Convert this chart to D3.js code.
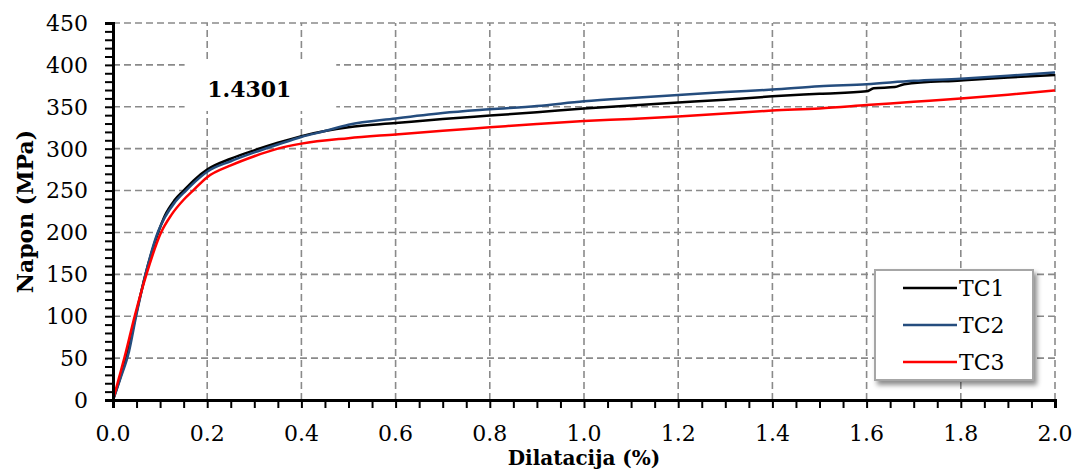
<!DOCTYPE html>
<html>
<head>
<meta charset="utf-8">
<script src="https://cdn.jsdelivr.net/npm/d3@7"></script>
<style>
body { margin: 0; background: #fff; }
</style>
</head>
<body>
<div id="graph"></div>
<script>
// Curves (strain in %, stress in MPa)
const strainTC1 = [0, 0.016, 0.032, 0.048, 0.069, 0.096, 0.11, 0.13, 0.15, 0.175, 0.2, 0.25, 0.3, 0.35, 0.4, 0.45, 0.5, 0.6, 0.7, 0.8, 0.9, 1.0, 1.1, 1.2, 1.3, 1.4, 1.5, 1.6, 1.615, 1.66, 1.68, 1.8, 1.9, 2.0]
const stressTC1 = [0, 28, 60, 100, 150, 200, 220, 238, 250, 264, 275, 288, 298, 307, 315, 321, 325.5, 330.5, 335.5, 339.5, 343.5, 348, 351.5, 355, 358.5, 362.5, 365.5, 368.5, 372, 373.5, 377, 381.5, 385, 388]

const strainTC2 = [0, 0.016, 0.034, 0.049, 0.069, 0.095, 0.11, 0.13, 0.155, 0.175, 0.2, 0.25, 0.3, 0.35, 0.4, 0.45, 0.5, 0.6, 0.7, 0.8, 0.9, 1.0, 1.1, 1.2, 1.3, 1.4, 1.5, 1.6, 1.7, 1.8, 1.9, 2.0]
const stressTC2 = [0, 26, 58, 100, 150, 200, 218, 235, 250, 261, 272.5, 285, 295.5, 305, 314, 321, 328.5, 336, 342.5, 347, 351, 356.5, 360.5, 364, 367.5, 370.5, 374.5, 377, 381, 383.5, 387, 391]

const strainTC3 = [0, 0.012, 0.025, 0.046, 0.071, 0.102, 0.124, 0.15, 0.17, 0.2, 0.25, 0.3, 0.35, 0.4, 0.5, 0.6, 0.7, 0.8, 0.9, 1.0, 1.1, 1.2, 1.3, 1.4, 1.5, 1.6, 1.7, 1.8, 1.9, 2.0]
const stressTC3 = [0, 25, 52, 100, 150, 200, 221, 239, 250, 266, 280, 291, 300, 306, 312.5, 317, 321.5, 325.5, 329.5, 333, 335.5, 338.5, 342, 345.5, 348, 352, 356, 360, 364.5, 369.5]

const seriesNames = ["TC1", "TC2", "TC3"]
const seriesColors = ["#000000", "#254d7e", "#ff0000"]

const xTicks = [0, 0.2, 0.4, 0.6, 0.8, 1.0, 1.2, 1.4, 1.6, 1.8, 2.0]
const yTicks = [0, 50, 100, 150, 200, 250, 300, 350, 400, 450]

const chartTitle = "1.4301"
const xTitle = "Dilatacija (%)"
const yTitle = "Napon (MPa)"

const width = 1075
const height = 471
const margin = { top: 23, right: 20, bottom: 71, left: 113 }
const serif = "'DejaVu Serif', serif"

const svg = d3.select("#graph").append("svg")
    .attr("width", width)
    .attr("height", height)

const x = d3.scaleLinear()
    .domain([0, 2])
    .range([margin.left, width - margin.right])

const y = d3.scaleLinear()
    .domain([0, 450])
    .range([height - margin.bottom, margin.top])

// Grid
const grid = svg.append("g")
    .attr("stroke", "#8a8a8a")
    .attr("stroke-width", 1.6)
    .attr("stroke-dasharray", "7,4")

grid.selectAll(".gx")
    .data(xTicks.slice(1))
    .join("line")
    .attr("x1", d => x(d))
    .attr("x2", d => x(d))
    .attr("y1", y(0))
    .attr("y2", y(450))

grid.selectAll(".gy")
    .data(yTicks.slice(1))
    .join("line")
    .attr("x1", x(0))
    .attr("x2", x(2))
    .attr("y1", d => y(d))
    .attr("y2", d => y(d))

// Title box covers the grid
svg.append("rect")
    .attr("x", x(0.152))
    .attr("y", y(407))
    .attr("width", x(0.474) - x(0.152))
    .attr("height", y(345) - y(407))
    .attr("fill", "#fff")

svg.append("text")
    .attr("x", x(0.2))
    .attr("y", y(362))
    .attr("font-family", serif)
    .attr("font-weight", "bold")
    .attr("font-size", 22)
    .text(chartTitle)

// Curves
const line = d3.line()
    .x(d => x(d[0]))
    .y(d => y(d[1]))
    .curve(d3.curveMonotoneX)

const series = [
    d3.zip(strainTC1, stressTC1),
    d3.zip(strainTC2, stressTC2),
    d3.zip(strainTC3, stressTC3)
]

svg.append("g")
    .selectAll("path")
    .data(series)
    .join("path")
    .attr("fill", "none")
    .attr("stroke", (d, i) => seriesColors[i])
    .attr("stroke-width", 2.5)
    .attr("stroke-linejoin", "round")
    .attr("d", line)

// Axes
const xAxis = svg.append("g")
    .attr("transform", `translate(0,${y(0)})`)
    .call(d3.axisBottom(x).tickValues(d3.range(0, 2.001, 0.05)).tickSize(8).tickFormat(""))
const yAxis = svg.append("g")
    .attr("transform", `translate(${x(0)},0)`)
    .call(d3.axisLeft(y).tickValues(d3.range(0, 451, 10)).tickSize(8).tickFormat(""))

for (const ax of [xAxis, yAxis]) {
    ax.select(".domain").attr("stroke", "#000").attr("stroke-width", 3)
    ax.selectAll(".tick line").attr("stroke", "#000").attr("stroke-width", 2)
}

svg.append("g")
    .selectAll("text")
    .data(xTicks)
    .join("text")
    .attr("x", d => x(d))
    .attr("y", y(0) + 41)
    .attr("text-anchor", "middle")
    .attr("font-family", serif)
    .attr("font-size", 22)
    .text(d => d.toFixed(1))

svg.append("g")
    .selectAll("text")
    .data(yTicks)
    .join("text")
    .attr("x", x(0) - 25)
    .attr("y", d => y(d))
    .attr("dy", "0.36em")
    .attr("text-anchor", "end")
    .attr("font-family", serif)
    .attr("font-size", 22)
    .text(d => d)

// Axis titles
svg.append("text")
    .attr("x", x(1))
    .attr("y", 465)
    .attr("text-anchor", "middle")
    .attr("font-family", serif)
    .attr("font-weight", "bold")
    .attr("font-size", 20)
    .text(xTitle)

svg.append("text")
    .attr("transform", `translate(33,${y(225)}) rotate(-90)`)
    .attr("text-anchor", "middle")
    .attr("font-family", serif)
    .attr("font-weight", "bold")
    .attr("font-size", 22)
    .text(yTitle)

// Legend
const defs = svg.append("defs")
defs.append("filter")
    .attr("id", "shadow")
    .attr("x", "-10%").attr("y", "-10%")
    .attr("width", "130%").attr("height", "130%")
    .append("feDropShadow")
    .attr("dx", 3).attr("dy", 4)
    .attr("stdDeviation", 2.5)
    .attr("flood-color", "#000")
    .attr("flood-opacity", 0.45)

const legend = svg.append("g")
    .attr("transform", "translate(875,270)")

legend.append("rect")
    .attr("width", 158)
    .attr("height", 110)
    .attr("fill", "#fff")
    .attr("stroke", "#a6a6a6")
    .attr("stroke-width", 2)
    .attr("filter", "url(#shadow)")

const entry = legend.selectAll(".entry")
    .data(seriesNames)
    .join("g")
    .attr("transform", (d, i) => `translate(0,${18 + i * 37})`)

entry.append("line")
    .attr("x1", 28)
    .attr("x2", 82)
    .attr("stroke", (d, i) => seriesColors[i])
    .attr("stroke-width", 2.5)

entry.append("text")
    .attr("x", 84)
    .attr("dy", "0.36em")
    .attr("font-family", serif)
    .attr("font-size", 22)
    .text(d => d)
</script>
</body>
</html>
